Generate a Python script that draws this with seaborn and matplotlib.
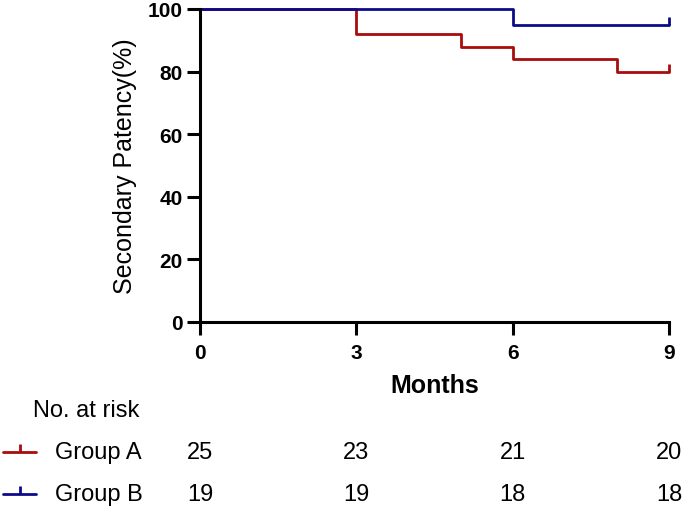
import matplotlib
matplotlib.use("Agg")
import matplotlib.pyplot as plt
import matplotlib.transforms as mtransforms
from matplotlib.lines import Line2D
import seaborn as sns
import pandas as pd

# curvas Kaplan-Meier (patencia secundaria, %)
tiempo_a = [0, 3, 5, 6, 8, 9]
patencia_a = [100, 92, 88, 84, 80, 80]
tiempo_b = [0, 6, 9]
patencia_b = [100, 94.74, 94.74]

grupos = ["Group A", "Group B"]
colores = ["#A80D0D", "#0B0B8A"]
meses_tick = [0, 3, 6, 9]
en_riesgo_a = [25, 23, 21, 20]
en_riesgo_b = [19, 19, 18, 18]

df = pd.concat([
    pd.DataFrame({"grupo": "Group A", "mes": tiempo_a, "patencia": patencia_a}),
    pd.DataFrame({"grupo": "Group B", "mes": tiempo_b, "patencia": patencia_b}),
])

sns.set_style("ticks", {"axes.edgecolor": "black", "text.color": "black",
                        "axes.labelcolor": "black", "xtick.color": "black",
                        "ytick.color": "black"})
plt.rcParams["font.family"] = ["Liberation Sans", "DejaVu Sans"]

fig = plt.figure(figsize=(6.85, 5.10), dpi=100)
ax = fig.add_axes([0.292, 0.3667, 0.6847, 0.6137])

sns.lineplot(data=df, x="mes", y="patencia", hue="grupo", palette=colores,
             estimator=None, sort=False, drawstyle="steps-post",
             linewidth=2.0, legend=False, ax=ax)
for line in ax.lines:
    line.set_clip_on(False)

# marcas de censura al final
ax.plot([tiempo_a[-1]], [patencia_a[-1]], marker=2, markersize=5.5, mew=2,
        color=colores[0], linestyle="none", clip_on=False)
ax.plot([tiempo_b[-1]], [patencia_b[-1]], marker=2, markersize=5.5, mew=2,
        color=colores[1], linestyle="none", clip_on=False)

ax.set_xlim(0, 9)
ax.set_ylim(0, 100)
ax.set_xticks(meses_tick)
ax.set_yticks([0, 20, 40, 60, 80, 100])
sns.despine(ax=ax)
for s in ["left", "bottom"]:
    ax.spines[s].set_linewidth(2.2)
ax.tick_params(width=2.2, length=9.4, labelsize=15, pad=3)
ax.tick_params(axis="x", pad=6)
for lab in ax.get_xticklabels() + ax.get_yticklabels():
    lab.set_fontweight("bold")

ax.set_xlabel("Months", fontsize=18, fontweight="bold", labelpad=8)
ax.set_ylabel("Secondary Patency(%)", fontsize=18, labelpad=8)

# tabla de numero en riesgo
trans = mtransforms.blended_transform_factory(ax.transData, fig.transFigure)
fig.text(0.048, 0.194, "No. at risk", fontsize=17, va="center", ha="left")
filas_y = [0.1118, 0.0294]
for grupo, color, fila_y, valores in zip(grupos, colores, filas_y,
                                          [en_riesgo_a, en_riesgo_b]):
    fig.text(0.080, fila_y, grupo, fontsize=17, va="center", ha="left")
    fig.add_artist(Line2D([0.004, 0.053], [fila_y, fila_y], color=color,
                          linewidth=2.0, transform=fig.transFigure))
    fig.add_artist(Line2D([0.0285], [fila_y], marker=2, markersize=5.5, mew=2,
                          color=color, transform=fig.transFigure))
    for m, v in zip(meses_tick, valores):
        fig.text(m, fila_y, str(v), fontsize=17, va="center", ha="center",
                 transform=trans)

fig.savefig("out.png", dpi=100)
